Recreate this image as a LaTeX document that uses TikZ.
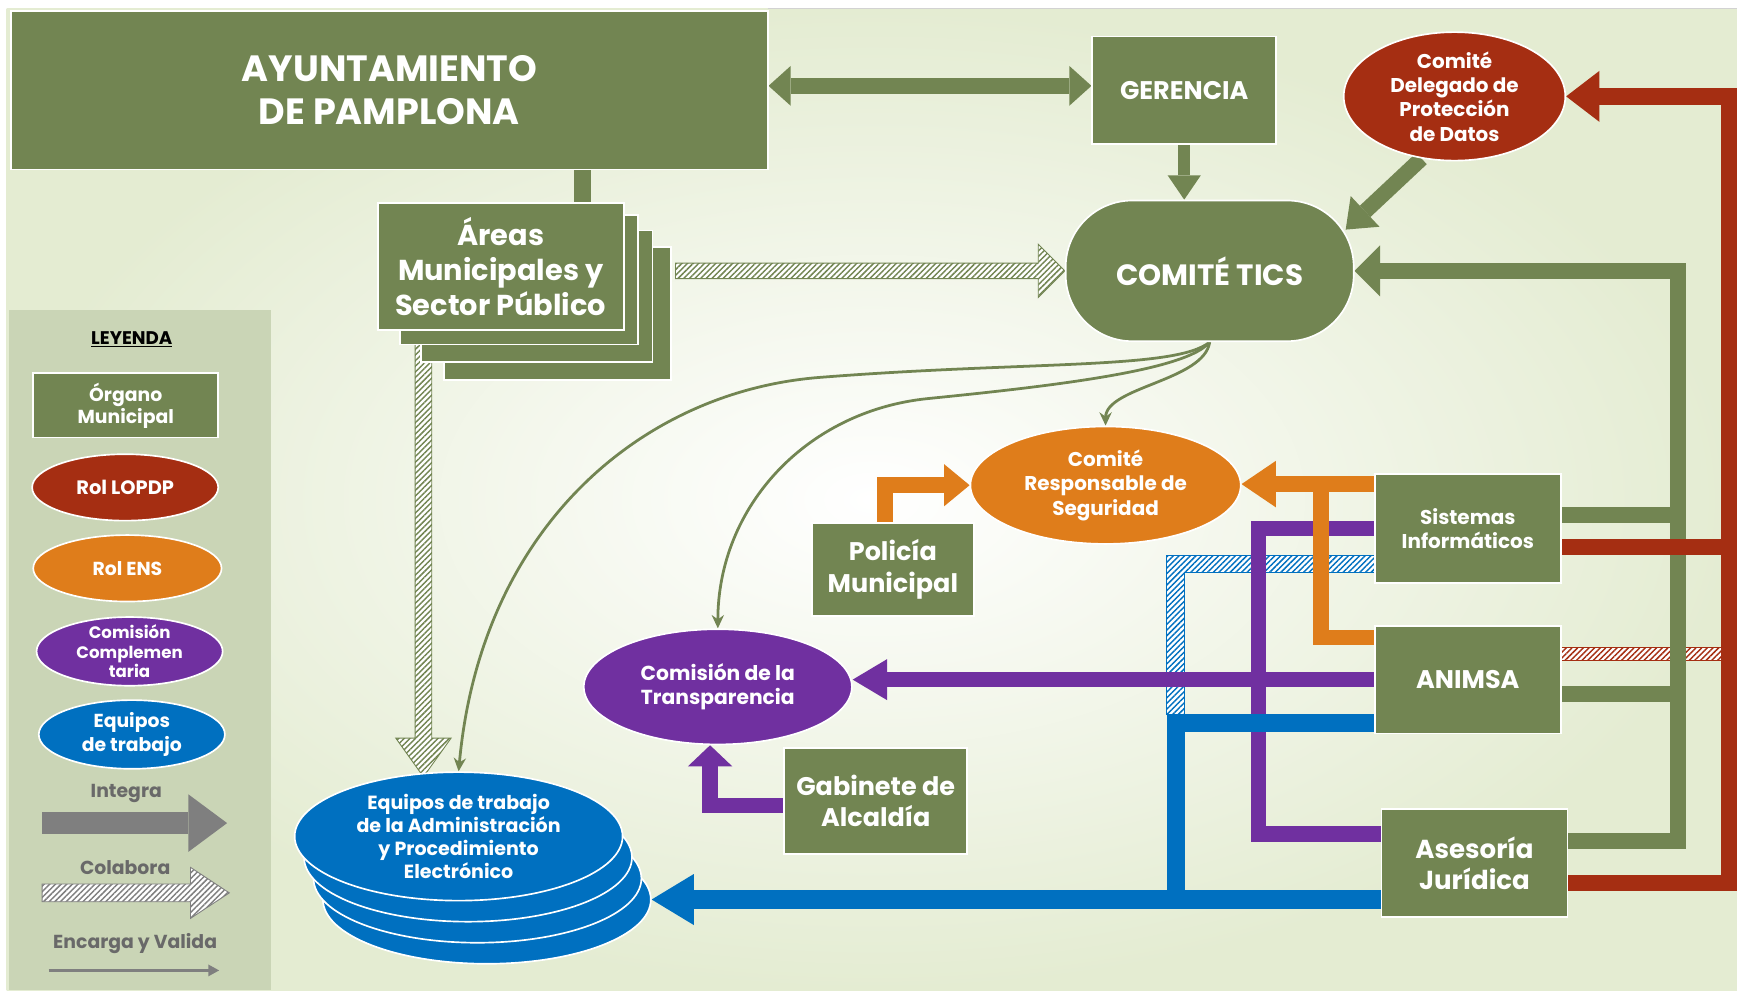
\documentclass[tikz,border=0pt]{standalone}
\usepackage{fontspec}
\setmainfont{Poppins}
\usetikzlibrary{arrows.meta,calc,patterns.meta,shapes.geometric,positioning}

\definecolor{olivo}{RGB}{114,133,82}
\definecolor{lopdp}{RGB}{165,46,18}
\definecolor{ens}{RGB}{223,125,27}
\definecolor{comis}{RGB}{112,48,160}
\definecolor{equipo}{RGB}{0,112,192}
\definecolor{leyfondo}{RGB}{202,213,182}
\definecolor{fondo}{RGB}{228,236,210}
\definecolor{gris}{RGB}{127,127,127}
\definecolor{grisletra}{RGB}{105,105,105}

\pgfdeclarelayer{fondo}
\pgfdeclarelayer{conect}
\pgfsetlayers{fondo,conect,main}

\newcommand{\fsz}[2]{\fontsize{#1}{#2}\selectfont\bfseries}
% flecha rayada: inicio, fin, semiancho, semiancho punta, largo punta, color
\newcommand{\flechacolab}[6]{%
  \path[colab=#6] ($(#1)+(0,-#3)$) -- ($(#2)+(-#5,-#3)$) -- ($(#2)+(-#5,-#4)$) -- (#2)
    -- ($(#2)+(-#5,#4)$) -- ($(#2)+(-#5,#3)$) -- ($(#1)+(0,#3)$) -- cycle;}
\newcommand{\flechacolabv}[6]{%
  \path[colab=#6] ($(#1)+(-#3,0)$) -- ($(#2)+(-#3,-#5)$) -- ($(#2)+(-#4,-#5)$) -- (#2)
    -- ($(#2)+(#4,-#5)$) -- ($(#2)+(#3,-#5)$) -- ($(#1)+(#3,0)$) -- cycle;}

\tikzset{
  organo/.style={rectangle, fill=olivo, draw=white, line width=1.5pt, text=white, align=center, inner sep=0pt},
  rol/.style={ellipse, fill=#1, draw=white, line width=1.5pt, inner sep=0pt},
  lbl/.style={text=white, align=center, inner sep=0pt},
  integra/.style={draw=#1, line width=14pt, arrows={-Triangle[width=44pt,length=23pt,line width=0pt]}},
  punta/.style 2 args={arrows={-Triangle[width=#1pt,length=#2pt,line width=0pt]}},
  barra/.style={draw=#1, line width=14pt},
  encarga/.style={draw=#1, line width=2.5pt, arrows={-Stealth[width=11pt,length=12pt]}},
  colab/.style={preaction={fill=white}, pattern={Lines[angle=45,distance=3.6pt,line width=1.3pt]}, pattern color=#1, draw=#1, line width=0.8pt},
  leytxt/.style={text=grisletra, font=\fsz{17}{20}},
}

\begin{document}
\begin{tikzpicture}[x=1pt,y=-1pt]
\useasboundingbox (0,0) rectangle (1568,894);

% nodos
\node[organo, minimum width=683, minimum height=143, font=\fsz{33}{39}] (ayto) at (351.5,81.5) {AYUNTAMIENTO\\DE PAMPLONA};
\node[organo, minimum width=166, minimum height=97, font=\fsz{23}{25}] (gerencia) at (1069,81.5) {GERENCIA};
\node[rol=lopdp, minimum width=200, minimum height=116,
  label={[lbl, font=\fsz{18}{22}]center:Comité\\Delegado de\\Protección\\de Datos}] (delegado) at (1313,87) {};
\node[organo, rounded corners=60pt, minimum width=260, minimum height=127, font=\fsz{26.5}{30}] (tics) at (1092,244.5) {COMITÉ TICS};

\node[organo, minimum width=205, minimum height=120] (areas3) at (503.5,283) {};
\node[organo, minimum width=209, minimum height=119] (areas2) at (484.5,267.5) {};
\node[organo, minimum width=215, minimum height=117] (areas1) at (468.5,252.5) {};
\node[organo, minimum width=222, minimum height=115, font=\fsz{26}{31.5}] (areas) at (452,240.5) {Áreas\\Municipales y\\Sector Público};

\node[rol=ens, minimum width=244, minimum height=106,
  label={[lbl, font=\fsz{18}{22}]center:Comité\\Responsable de\\Seguridad}] (resp) at (998,438) {};
\node[organo, minimum width=146, minimum height=84, font=\fsz{23}{29}] (policia) at (806,514) {Policía\\Municipal};
\node[organo, minimum width=168, minimum height=98, font=\fsz{18}{22}] (sistemas) at (1325,477) {Sistemas\\Informáticos};
\node[organo, minimum width=168, minimum height=97, font=\fsz{23}{26}] (animsa) at (1325,613.5) {ANIMSA};
\node[organo, minimum width=168, minimum height=98, font=\fsz{23.5}{28}] (asesoria) at (1331,779) {Asesoría\\Jurídica};
\node[rol=comis, minimum width=242, minimum height=104,
  label={[lbl, font=\fsz{18.3}{22}]center:Comisión de la\\Transparencia}] (transp) at (648,620) {};
\node[organo, minimum width=165, minimum height=96, font=\fsz{23}{28}] (gabinete) at (790.5,723) {Gabinete de\\Alcaldía};

\node[rol=equipo, minimum width=296, minimum height=116] (eq4) at (439.5,812) {};
\node[rol=equipo, minimum width=296, minimum height=116] (eq3) at (431,793) {};
\node[rol=equipo, minimum width=296, minimum height=116] (eq2) at (422.5,774) {};
\node[rol=equipo, minimum width=296, minimum height=116,
  label={[lbl, font=\fsz{17.2}{21}]center:Equipos de trabajo\\de la Administración\\y Procedimiento\\Electrónico}] (equipos) at (414,755) {};

% leyenda
\node[font=\fsz{16.5}{18}, text=black] (leyenda) at (119,306) {\underline{LEYENDA}};
\node[organo, minimum width=167, minimum height=58, font=\fsz{17}{20}] (l-organo) at (113.5,366) {Órgano\\Municipal};
\node[rol=lopdp, minimum width=168, minimum height=60,
  label={[lbl, font=\fsz{17.5}{18}]center:Rol LOPDP}] (l-lopdp) at (113,440) {};
\node[rol=ens, minimum width=170, minimum height=60,
  label={[lbl, font=\fsz{17}{18}]center:Rol ENS}] (l-ens) at (115,513) {};
\node[rol=comis, minimum width=168, minimum height=62,
  label={[lbl, font=\fsz{15}{17.5}]center:Comisión\\Complemen\\taria}] (l-comis) at (117,588) {};
\node[rol=equipo, minimum width=168, minimum height=62,
  label={[lbl, font=\fsz{17}{21}]center:Equipos\\de trabajo}] (l-equipo) at (119,663) {};
\node[leytxt] (l-integra) at (114,716) {Integra};
\node[leytxt] (l-colabora) at (113,783) {Colabora};
\node[leytxt] (l-encarga) at (122,852) {Encarga y Valida};
\coordinate (li-a) at (38,743);  \coordinate (li-b) at (205,743);
\coordinate (lc-a) at (38,806);  \coordinate (lc-b) at (207,806);
\coordinate (le-a) at (44,876);  \coordinate (le-b) at (198,876);

\coordinate (gbus) at ($(tics.east)+(292,0)$);
\coordinate (rbus) at ($(delegado.east)+(147,0)$);
\coordinate (azbus) at ($([yshift=-33pt]asesoria.west)+(-185,0)$);
\coordinate (cd-a) at ([xshift=42pt]areas.south west);
\coordinate (ch-a) at ($(areas3.east |- tics.west)+(3,0)$);

\begin{pgfonlayer}{fondo}
\fill[white] (0,0) rectangle (1568,894);
\shade[inner color=white, outer color=fondo] (6,8) rectangle (1568,894);
\draw[gray!35, line width=1pt] (693,7.5) -- (1568,7.5);
\fill[leyfondo] (8,280) rectangle (245,894);
\end{pgfonlayer}

\begin{pgfonlayer}{conect}
% integra
\draw[integra=olivo, line width=15pt, arrows={Triangle[width=36pt,length=20pt,line width=0pt]-Triangle[width=36pt,length=20pt,line width=0pt]}]
  ([yshift=4pt]ayto.east) -- ([yshift=4pt]gerencia.west);
\draw[barra=olivo, line width=16pt] ([xshift=-38pt]areas.north east) -- ([xshift=-38pt]areas.north east |- ayto.south);
\draw[integra=olivo, line width=11pt, punta={30}{22}] (gerencia.south) -- (gerencia.south |- tics.north);
\draw[integra=olivo, punta={38}{24}] (delegado.-118) -- ([shift={(-8pt,-27pt)}]tics.north east);

% colabora
\flechacolab{ch-a}{tics.west}{7}{24}{24}{olivo}
\flechacolabv{cd-a}{$(cd-a |- equipos.north)+(0,5)$}{7.5}{25}{35}{olivo}

% rojo y verde a la derecha
\path[colab=lopdp] ([yshift=29pt]animsa.east) rectangle ($([yshift=17pt]animsa.east -| rbus)+(8,0)$);
\draw[integra=olivo, punta={46}{23}] ([yshift=20pt]asesoria.east) -| (gbus) -- (tics.east);
\draw[barra=olivo] ([yshift=12pt]sistemas.east) -- ([yshift=12pt]sistemas.east -| gbus);
\draw[barra=olivo] ([yshift=-13pt]animsa.east) -- ([yshift=-13pt]animsa.east -| gbus);
\draw[integra=lopdp, line width=15pt, punta={46}{30}] ([yshift=-18pt]asesoria.east) -| (rbus) -- (delegado.east);
\draw[barra=lopdp] ([yshift=-17pt]sistemas.east) -- ([yshift=-17pt]sistemas.east -| rbus);

% azul rayado
\path[colab=equipo] ($(sistemas.west)+(0,24)$) -- ($(sistemas.west)+(-187,24)$) -- ($(sistemas.west)+(-187,168)$)
  -- ($(sistemas.west)+(-171,168)$) -- ($(sistemas.west)+(-171,40)$) -- ($(sistemas.west)+(0,40)$) -- cycle;

% morado
\draw[integra=comis, punta={40}{19}] ([yshift=-4pt]gabinete.west) -| ([xshift=-7pt]transp.south);
\draw[integra=comis, line width=13pt, punta={37}{31}] (animsa.west) -- (animsa.west -| transp.east);
\draw[barra=comis] (sistemas.west) -- ++(-104,0) |- ([yshift=26pt]asesoria.west);

% naranja
\draw[integra=ens, punta={38}{23}] ([xshift=-7pt]policia.north) |- (resp.west);
\draw[integra=ens, punta={42}{31}] ([yshift=40pt]sistemas.west) -- ([yshift=40pt]sistemas.west -| resp.east);
\draw[barra=ens] ([yshift=38pt]animsa.west) -| ($(sistemas.west)+(-48,-40)$);

% azul
\draw[integra=equipo, line width=17pt, punta={46}{38}] ([yshift=-33pt]asesoria.west) -- (eq4.east);
\draw[barra=equipo, line width=16pt] ([yshift=-39pt]animsa.west) -| (azbus);

% encarga y valida
\draw[encarga=olivo] (tics.south) .. controls +(-30,25) and +(190,-15) .. +(-353,32)
  .. controls +(-160,13) and +(20,-220) .. (equipos.north);
\draw[encarga=olivo] (tics.south) .. controls +(-20,25) and +(120,-12) .. +(-254,51)
  .. controls +(-110,11) and +(0,-110) .. (transp.north);
\draw[encarga=olivo] (tics.south) .. controls +(-5,35) and +(0,-35) .. (resp.north);

% leyenda
\draw[integra=gris, line width=20pt, punta={52}{35}] (li-a) -- (li-b);
\flechacolab{lc-a}{lc-b}{8}{23}{35}{gris}
\draw[gris, line width=3pt, arrows={-Triangle[width=10pt,length=10pt]}] (le-a) -- (le-b);
\end{pgfonlayer}
\end{tikzpicture}
\end{document}
